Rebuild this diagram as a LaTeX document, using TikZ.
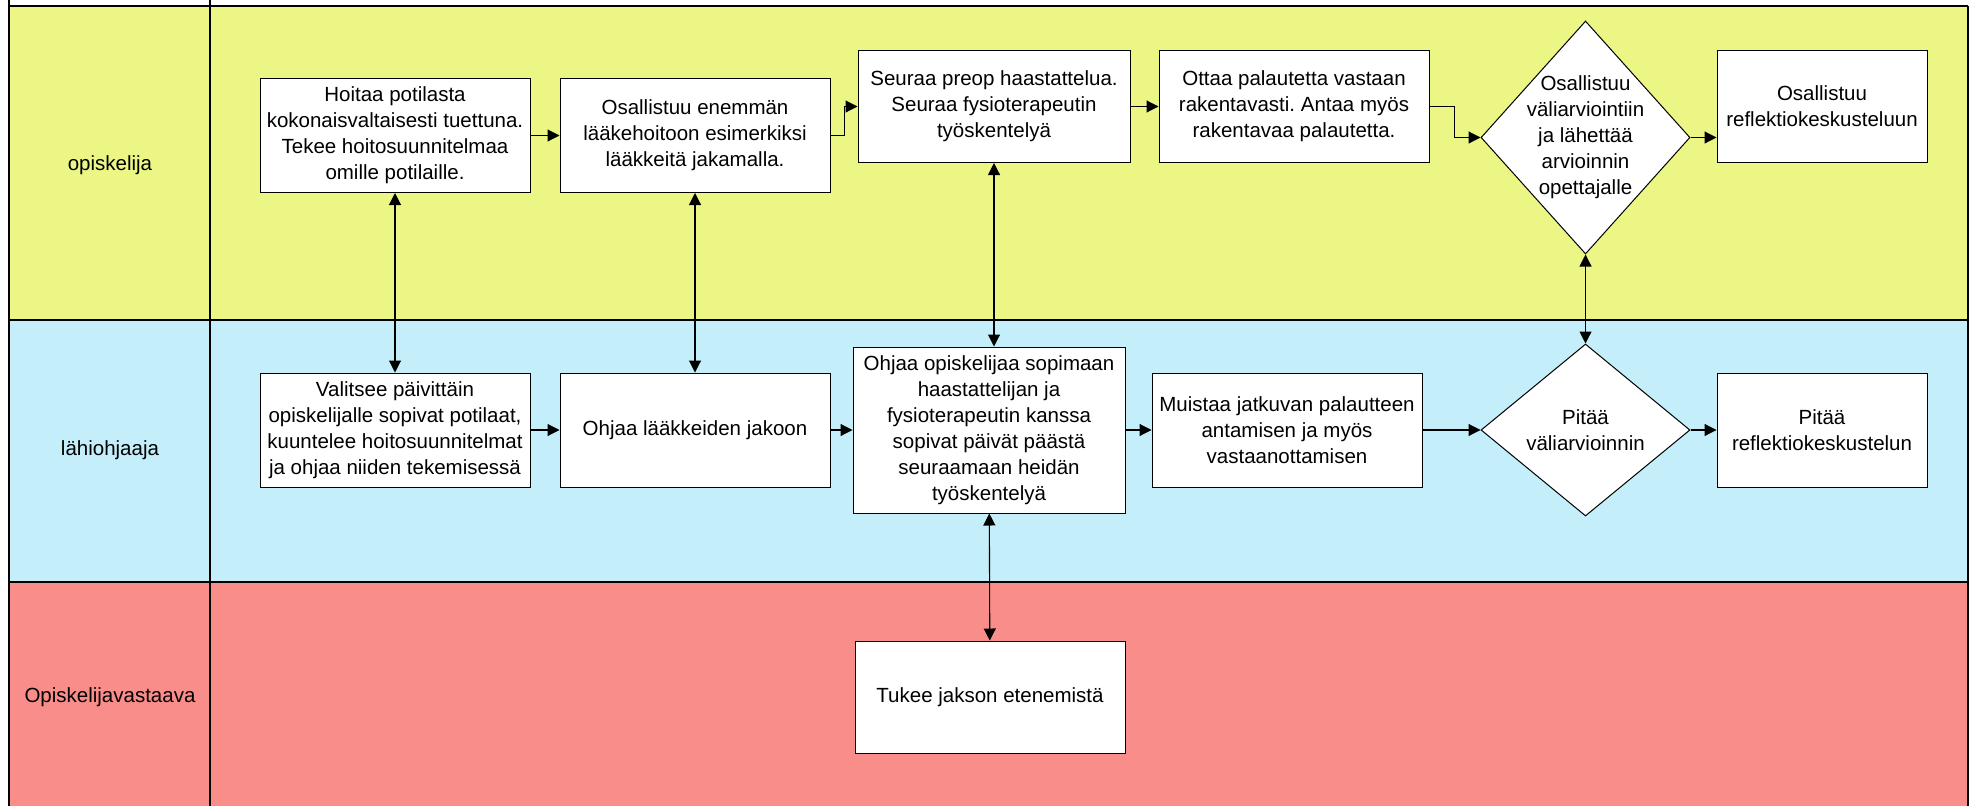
\documentclass[tikz,border=0pt]{standalone}
\usepackage{fontspec}
\setmainfont{Liberation Sans}
\usetikzlibrary{arrows.meta,shapes.geometric}
\definecolor{laneyellow}{HTML}{EBF685}
\definecolor{laneblue}{HTML}{C4EEF9}
\definecolor{lanered}{HTML}{F98D8A}
\frenchspacing

\begin{document}
\begin{tikzpicture}[x=1pt,y=-1pt]
\tikzset{box/.style = {shape=rectangle,draw,fill=white,line width=1pt,align=center,inner sep=1pt,minimum width=270pt,minimum height=114pt,font=\fontsize{20.5}{26}\selectfont}}
\tikzset{decision/.style = {shape=diamond,draw,fill=white,line width=1pt,inner sep=0pt,minimum width=209pt}}
\tikzset{lanelabel/.style = {font=\fontsize{20.5}{26}\selectfont}}
\tikzset{edge/.style = {-{Triangle[length=12pt,width=12pt]},line width=1.1pt}}
\tikzset{twoway/.style = {{Triangle[length=12pt,width=12pt]}-{Triangle[length=12pt,width=12pt]},line width=1.1pt}}
\useasboundingbox (0,0) rectangle (1972,806);

% lanes
\fill[laneyellow] (9,6) rectangle (1968,320);
\fill[laneblue] (9,320) rectangle (1968,582);
\fill[lanered] (9,582) rectangle (1968,806);
\draw[line width=2.5pt] (9,6) -- (1968,6);
\draw[line width=2.5pt] (9,320) -- (1968,320);
\draw[line width=2.5pt] (9,582) -- (1968,582);
\draw[line width=2pt] (9,0) -- (9,806);
\draw[line width=2pt] (210,0) -- (210,806);
\draw[line width=2pt] (1968,6) -- (1968,806);

\node[lanelabel] (opi) at (110,165) {opiskelija};
\node[lanelabel] (lah) at (110,450) {lähiohjaaja};
\node[lanelabel] (vas) at (110,697) {Opiskelijavastaava};

% opiskelija
\node[box] (hoi) at (395,135.5) {Hoitaa potilasta\\kokonaisvaltaisesti tuettuna.\\Tekee hoitosuunnitelmaa\\omille potilaille.};
\node[box] (osa) at (695,135.5) {Osallistuu enemmän\\lääkehoitoon esimerkiksi\\lääkkeitä jakamalla.};
\node[box,minimum width=272pt,minimum height=112pt] (seu) at (994,106.5) {Seuraa preop haastattelua.\\Seuraa fysioterapeutin\\työskentelyä};
\node[box,minimum width=270pt,minimum height=112pt] (ott) at (1294,106.5) {Ottaa palautetta vastaan\\rakentavasti. Antaa myös\\rakentavaa palautetta.};
\node[decision,minimum height=233pt,label={[lanelabel,align=center]center:{Osallistuu\\väliarviointiin\\ja lähettää\\arvioinnin\\opettajalle}}] (val) at (1585.5,137.5) {};
\node[box,minimum width=210pt,minimum height=112pt] (ref) at (1822,106.5) {Osallistuu\\reflektiokeskusteluun};

% lahiohjaaja
\node[box] (vai) at (395,430) {Valitsee päivittäin\\opiskelijalle sopivat potilaat,\\kuuntelee hoitosuunnitelmat\\ja ohjaa niiden tekemisessä};
\node[box] (jak) at (695,430) {Ohjaa lääkkeiden jakoon};
\node[box,minimum width=272pt,minimum height=166pt] (soi) at (989,430) {Ohjaa opiskelijaa sopimaan\\haastattelijan ja\\fysioterapeutin kanssa\\sopivat päivät päästä\\seuraamaan heidän\\työskentelyä};
\node[box] (mui) at (1287,430) {Muistaa jatkuvan palautteen\\antamisen ja myös\\vastaanottamisen};
\node[decision,minimum height=172pt,label={[lanelabel,align=center]center:{Pitää\\väliarvioinnin}}] (pit) at (1585.5,430) {};
\node[box,minimum width=210pt] (pre) at (1822,430) {Pitää\\reflektiokeskustelun};

% opiskelijavastaava
\node[box,minimum height=112pt] (tuk) at (990,697) {Tukee jakson etenemistä};

\draw[edge] (hoi) -- (osa);
\draw[edge] (osa.east) -- ++(14,0) |- (seu.west);
\draw[edge] (seu) -- (ott);
\draw[edge] (ott.east) -- ++(25,0) |- (val.west);
\draw[edge] (val.east) -- (val.east -| ref.west);

\draw[edge] (vai) -- (jak);
\draw[edge] (jak) -- (soi);
\draw[edge] (soi) -- (mui);
\draw[edge] (mui) -- (pit);
\draw[edge] (pit) -- (pre);

\draw[twoway] (hoi) -- (vai);
\draw[twoway] (osa) -- (jak);
\draw[twoway] (seu.south) -- (seu.south |- soi.north);
\draw[twoway] (val.south) -- (pit.north);
\draw[twoway] (soi) -- (tuk);

\end{tikzpicture}
\end{document}
